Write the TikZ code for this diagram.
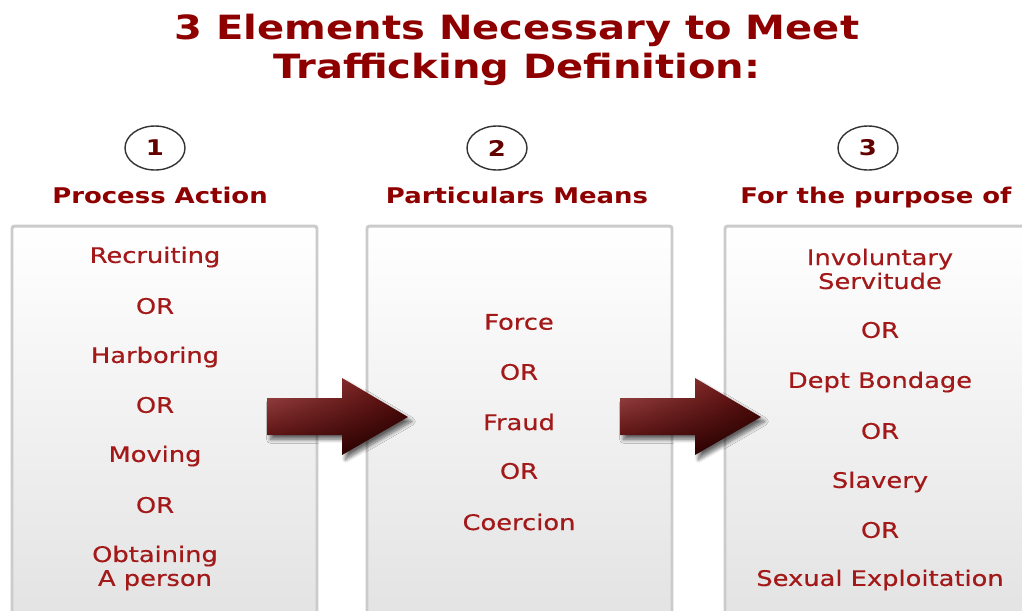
\documentclass[tikz,border=0pt]{standalone}
\usepackage{fontspec}
\setmainfont[FakeStretch=1.2]{DejaVu Sans}
\newfontfamily\itemfont[FakeStretch=1.2, FakeBold=0.4]{DejaVu Sans}
\usetikzlibrary{shapes.geometric,shadings,shadows.blur}

\definecolor{titlered}{HTML}{8E0000}
\definecolor{itemred}{HTML}{A31818}
\definecolor{boxline}{HTML}{CBCBCB}
\definecolor{boxtop}{HTML}{FFFFFF}
\definecolor{boxbottom}{HTML}{E2E2E2}

\tikzset{
    title/.style={font=\bfseries\fontsize{19}{22.5}\selectfont, text=titlered, align=center},
    heading/.style={font=\bfseries\fontsize{12.3}{14}\selectfont, text=titlered, anchor=base},
    number/.style={draw=black!80, line width=0.8pt, ellipse, minimum width=1.2cm, minimum height=0.88cm,
        inner sep=0pt, font=\bfseries\fontsize{12.3}{14}\selectfont, text=titlered!70!black},
    item/.style={font=\itemfont\fontsize{12.2}{13.6}\selectfont, text=itemred, align=center},
    panel/.style={draw=boxline, line width=1.7pt, rounded corners=1.5pt, top color=boxtop, bottom color=boxbottom},
    blockarrow/.style={upper left={rgb,255:red,168;green,80;blue,80}, upper right={rgb,255:red,100;green,10;blue,10},
        lower left={rgb,255:red,70;green,0;blue,0}, lower right={rgb,255:red,22;green,0;blue,0},
        blur shadow={shadow xshift=2pt, shadow yshift=-2.5pt, shadow blur steps=8, shadow opacity=60}}
}

\begin{document}
\begin{tikzpicture}[x=0.02cm, y=0.02cm]
    \useasboundingbox (0,0) rectangle (1022,-610);
    \clip (0,0) rectangle (1022,-610);

    \node[title] (head) at (517,-50) {3 Elements Necessary to Meet\\Trafficking Definition:};

    %boxes
    \shade[panel] (12,-630) -- (12,-226) -- (317,-226) -- (317,-630);
    \shade[panel] (367,-630) -- (367,-226) -- (672,-226) -- (672,-630);
    \shade[panel] (725,-630) -- (725,-226) -- (1040,-226) -- (1040,-630);

    %numbers
    \node[number] (n1) at (155,-148) {1};
    \node[number] (n2) at (497,-148) {2};
    \node[number] (n3) at (868,-148) {3};

    \node[heading] (h1) at (160,-203) {Process Action};
    \node[heading] (h2) at (517,-203) {Particulars Means};
    \node[heading] (h3) at (876,-203) {For the purpose of};

    %process action
    \node[item] (a1) at (155,-257) {Recruiting};
    \node[item] (a2) at (155,-306) {OR};
    \node[item] (a3) at (155,-357) {Harboring};
    \node[item] (a4) at (155,-405) {OR};
    \node[item] (a5) at (155,-456) {Moving};
    \node[item] (a6) at (155,-505) {OR};
    \node[item] (a7) at (155,-568) {Obtaining\\A person};

    %means
    \node[item] (b1) at (519,-322) {Force};
    \node[item] (b2) at (519,-372) {OR};
    \node[item] (b3) at (519,-422) {Fraud};
    \node[item] (b4) at (519,-471) {OR};
    \node[item] (b5) at (519,-522) {Coercion};

    %purpose
    \node[item] (c1) at (880,-269) {Involuntary\\Servitude};
    \node[item] (c2) at (880,-330) {OR};
    \node[item] (c3) at (880,-382) {Dept Bondage};
    \node[item] (c4) at (880,-431) {OR};
    \node[item] (c5) at (880,-482) {Slavery};
    \node[item] (c6) at (880,-530) {OR};
    \node[item] (c7) at (880,-580) {Sexual Exploitation};

    %arrows
    \foreach \dx in {0,353}
        \shade[blockarrow] (267+\dx,-398) -- (342+\dx,-398) -- (342+\dx,-378) -- (408+\dx,-417)
            -- (342+\dx,-455) -- (342+\dx,-435) -- (267+\dx,-435) -- cycle;
\end{tikzpicture}
\end{document}
